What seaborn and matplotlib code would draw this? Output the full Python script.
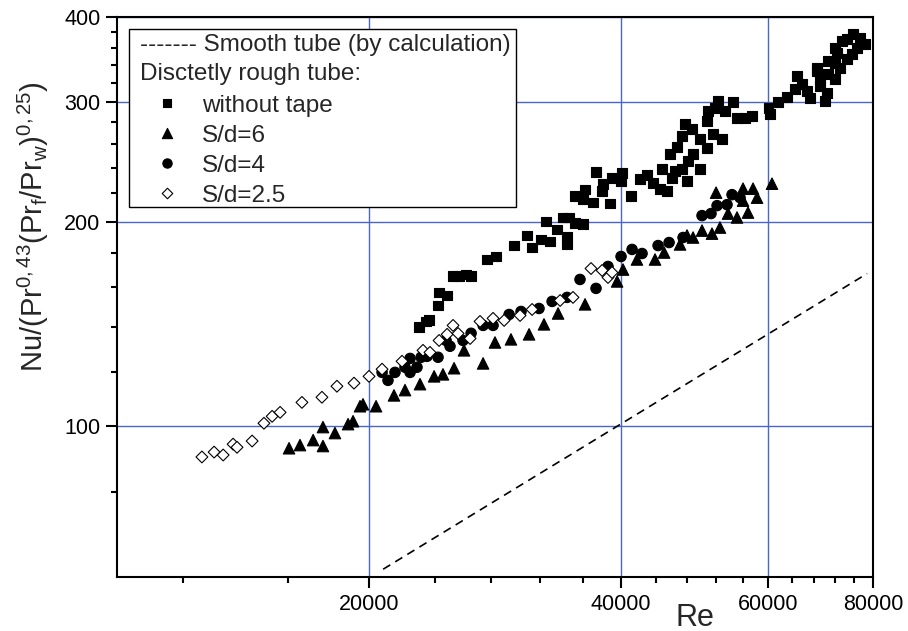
import numpy as np
import pandas as pd
import matplotlib
matplotlib.use("Agg")
import matplotlib.pyplot as plt
from matplotlib.ticker import NullFormatter
from matplotlib.patches import Rectangle
import seaborn as sns

# --- data ---
re_plain = [22950, 23390, 23590, 24180, 24250, 24790, 25200, 25620, 26110, 26480,
            27670, 28360, 29800, 30880, 31320, 32100, 32910, 32550, 33540, 34100,
            34670, 34480, 34480, 35240, 36030, 35240, 36030, 36230, 37040, 37340,
            38070, 37970, 38810, 39020, 40110, 40000, 41120, 42150, 42960, 43670,
            44780, 44530, 45400, 46030, 46410, 47310, 47960, 48090, 48760, 49700,
            45770, 46670, 47310, 47700, 48630, 49700, 50670, 50670, 51510, 52810,
            50810, 51800, 52230, 53250, 54430, 55030, 56260, 57360, 60000, 60260,
            61600, 63140, 64550, 64910, 66720, 67270, 68580, 69140, 70110, 70490,
            69140, 70680, 72060, 70680, 72060, 73040, 72060, 73450, 74480, 75710,
            77190, 78260, 76550, 75510, 74480, 72460, 68580, 65810]
nu_plain = [139.8, 142.6, 143.1, 150.5, 157.3, 155.7, 166.1, 166.1, 167.2, 166.1,
            175.9, 177.7, 184.4, 190.8, 183.2, 188.2, 186.9, 200.0, 194.7, 202.8,
            202.8, 190.1, 185.1, 199.3, 198.6, 218.4, 216.1, 222.9, 213.3, 236.9,
            227.4, 222.1, 212.6, 232.1, 236.0, 229.7, 218.4, 231.3, 234.5, 228.2,
            239.3, 223.6, 222.1, 232.1, 237.6, 239.3, 229.7, 245.8, 251.7, 239.3,
            251.7, 257.7, 267.5, 278.6, 274.0, 264.8, 256.9, 281.4, 269.3, 264.8,
            291.1, 294.1, 301.1, 291.1, 300.0, 284.3, 284.3, 286.2, 294.1, 288.2,
            300.0, 305.2, 313.6, 327.7, 311.5, 304.2, 333.3, 316.8, 301.1, 309.3,
            324.4, 329.9, 324.4, 344.7, 342.4, 336.6, 360.2, 368.8, 371.3, 377.7,
            372.6, 365.1, 360.2, 353.0, 347.0, 354.1, 336.6, 319.0]

re_sd6 = [16050, 16540, 17150, 17620, 17620, 18210, 18880, 19140, 19510, 19670,
          20390, 21420, 22080, 23010, 23920, 24510, 25270, 25970, 27370, 28280,
          29550, 31060, 32360, 33640, 36230, 39570, 40220, 41790, 43920, 45030,
          47050, 47960, 48760, 49980, 51370, 52510, 53690, 55030, 55950, 56720,
          58150, 55950, 57510, 51950, 60590]
nu_sd6 = [92.8, 93.8, 95.4, 93.5, 99.7, 97.7, 100.7, 101.7, 107.0, 107.7,
          107.0, 111.0, 113.0, 115.3, 118.4, 119.2, 121.7, 129.3, 123.7, 132.8,
          134.2, 136.5, 141.2, 146.5, 151.1, 163.3, 170.0, 175.9, 175.9, 180.1,
          185.1, 190.8, 189.5, 194.0, 192.0, 196.0, 205.5, 202.8, 214.7, 206.2,
          216.9, 223.6, 223.6, 220.6, 227.4]

re_sd4 = [20730, 21070, 21480, 22080, 22390, 22390, 22820, 23080, 23460, 24180,
          24720, 24990, 25900, 26480, 27370, 28130, 29400, 30380, 31920, 33090,
          34480, 35730, 37340, 38590, 40000, 41230, 42380, 44290, 45650, 47440,
          49980, 51230, 52090, 53540, 54280, 55490]
nu_sd4 = [120.0, 116.8, 120.0, 122.1, 125.8, 120.0, 122.1, 126.3, 126.7, 126.3,
          133.7, 131.1, 133.7, 137.0, 140.7, 140.7, 146.0, 147.5, 149.0, 152.6,
          154.7, 164.4, 159.5, 171.8, 177.7, 182.0, 179.5, 184.4, 186.3, 189.5,
          204.1, 205.5, 211.1, 211.8, 219.1, 216.9]

re_sd25 = [12630, 13060, 13390, 13760, 13910, 14500, 14980, 15320, 15660, 16630,
           17570, 18310, 19190, 20000, 20730, 21900, 23200, 23650, 24250, 24790,
           25200, 25550, 26410, 27140, 28130, 29000, 30300, 31320, 33830, 35050,
           36830, 37970, 38590, 39020]
nu_sd25 = [90.1, 91.6, 90.7, 94.1, 93.1, 95.1, 101.0, 103.4, 104.8, 108.4,
           110.3, 114.5, 115.7, 118.4, 121.3, 124.6, 129.3, 128.4, 133.7, 136.5,
           140.7, 136.9, 134.6, 142.6, 144.1, 143.1, 145.5, 148.5, 153.1, 154.7,
           170.6, 169.5, 165.5, 168.3]

# smooth tube (calculation) line, end points
re_smooth = [20790, 78700]
nu_smooth = [61.6, 167.7]

series_names = ["without tape", "S/d=6", "S/d=4", "S/d=2.5"]
x_major = [20000, 40000, 60000, 80000]
x_minor = [12000, 16000, 24000, 28000, 32000, 36000, 44000, 48000, 52000,
           56000, 64000, 68000, 72000, 76000]
y_major = [100, 200, 300, 400]
y_minor = [80, 120, 140, 160, 180, 220, 240, 260, 280, 320, 340, 360, 380]

df = pd.concat([
    pd.DataFrame({"Re": re_plain, "Nu": nu_plain, "series": series_names[0]}),
    pd.DataFrame({"Re": re_sd6, "Nu": nu_sd6, "series": series_names[1]}),
    pd.DataFrame({"Re": re_sd4, "Nu": nu_sd4, "series": series_names[2]}),
    pd.DataFrame({"Re": re_sd25, "Nu": nu_sd25, "series": series_names[3]}),
], ignore_index=True)

sns.set_style("white")
plt.rcParams["font.family"] = ["Liberation Sans", "DejaVu Sans"]
plt.rcParams["mathtext.fontset"] = "custom"
plt.rcParams["mathtext.rm"] = "Liberation Sans"
plt.rcParams["mathtext.it"] = "Liberation Sans"

fig = plt.figure(figsize=(9.08, 6.31), dpi=100)
ax = fig.add_axes([0.1289, 0.0856, 0.8326, 0.8875])
ax.set_xscale("log")
ax.set_yscale("log")

markers = {"without tape": "s", "S/d=6": "^", "S/d=4": "o", "S/d=2.5": "D"}
palette = {"without tape": "black", "S/d=6": "black", "S/d=4": "black", "S/d=2.5": "white"}
sizes = {"without tape": 50, "S/d=6": 68, "S/d=4": 56, "S/d=2.5": 36}
sns.scatterplot(data=df, x="Re", y="Nu", hue="series", style="series",
                size="series", sizes=sizes, markers=markers, palette=palette,
                edgecolor="black", linewidth=0.8, legend=False, ax=ax, zorder=3)

ax.plot(re_smooth, nu_smooth, color="black", lw=1.2, ls=(0, (5, 3.5)), zorder=2)

ax.set_xlim(10000, 80000)
ax.set_ylim(60, 400)
ax.set_xticks(x_major, labels=[str(v) for v in x_major])
ax.set_xticks(x_minor, minor=True)
ax.set_yticks(y_major, labels=[str(v) for v in y_major])
ax.set_yticks(y_minor, minor=True)
ax.xaxis.set_minor_formatter(NullFormatter())
ax.yaxis.set_minor_formatter(NullFormatter())

ax.grid(True, which="major", color="#4a66c8", lw=1)
ax.set_axisbelow(True)
for s in ax.spines.values():
    s.set_color("black")
    s.set_linewidth(1.5)
ax.tick_params(which="both", bottom=True, left=True, top=False, right=False)
ax.tick_params(which="major", direction="out", length=8, width=1.5,
               labelsize=15.5, pad=4, colors="black")
ax.tick_params(which="minor", direction="out", length=4.5, width=1.5, colors="black")

ax.set_xlabel("Re", fontsize=22)
ax.xaxis.set_label_coords(0.765, -0.046)
ax.set_ylabel(r"Nu/(Pr$^{0,43}$(Pr$_f$/Pr$_w$)$^{0,25}$)", fontsize=21)
ax.yaxis.set_label_coords(-0.088, 0.625)

# --- legend box drawn by hand ---
ax.add_patch(Rectangle((0.0159, 0.6607), 0.512, 0.318, transform=ax.transAxes,
                       facecolor="white", edgecolor="black", lw=1, zorder=5))
fs = 17.5
ax.text(0.0304, 0.9393, "------- Smooth tube (by calculation)", transform=ax.transAxes,
        fontsize=fs, va="baseline", zorder=6)
ax.text(0.0304, 0.8875, "Disctetly rough tube:", transform=ax.transAxes,
        fontsize=fs, va="baseline", zorder=6)
leg_y_mark = [0.8464, 0.7929, 0.7393, 0.6857]
leg_y_text = [0.8304, 0.7768, 0.7232, 0.6696]
for name, ym, yt in zip(series_names, leg_y_mark, leg_y_text):
    ax.scatter([0.0661], [ym], marker=markers[name], s=sizes[name] * 0.8,
               facecolor=palette[name], edgecolor="black", linewidth=0.8,
               transform=ax.transAxes, zorder=6, clip_on=False)
    ax.text(0.1124, yt, name, transform=ax.transAxes, fontsize=fs,
            va="baseline", zorder=6)

fig.savefig("out.png", dpi=100)
